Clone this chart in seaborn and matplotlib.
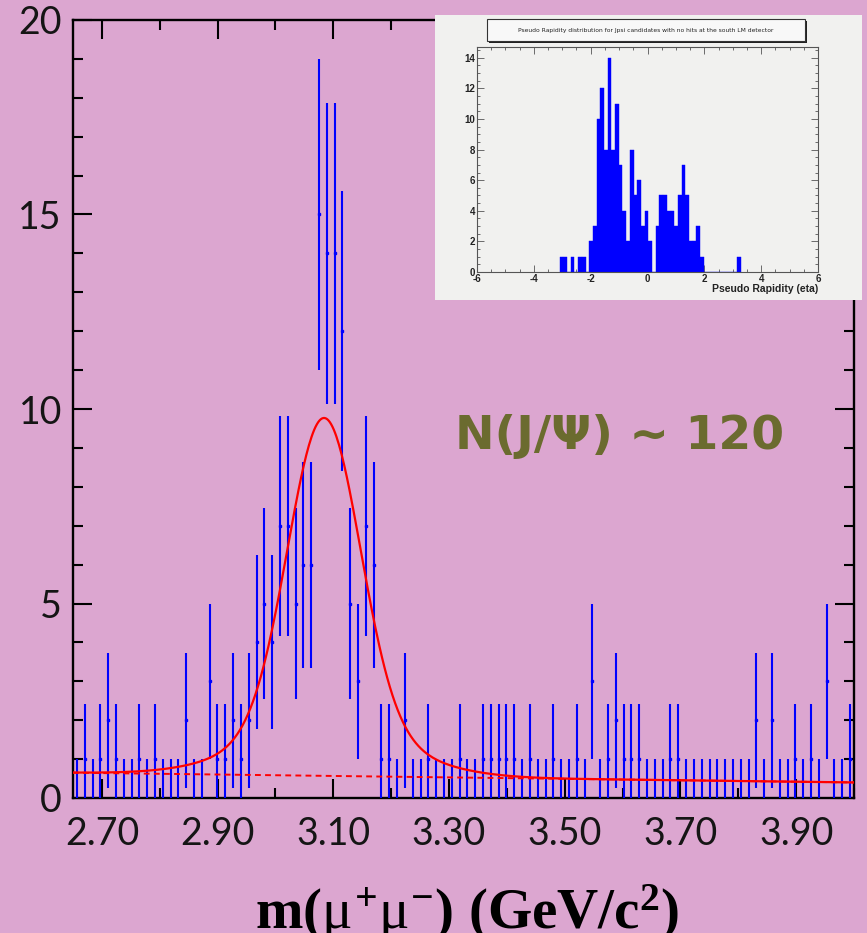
import numpy as np
import pandas as pd
import matplotlib
matplotlib.use("Agg")
import matplotlib.pyplot as plt
from matplotlib.ticker import MultipleLocator
from matplotlib.patches import Rectangle
import seaborn as sns

# dimuon invariant mass histogram, 100 equal bins between mass_lo and mass_hi
mass_lo = 2.65
mass_hi = 4.00
mass_counts = [
    0, 1, 0, 1, 2, 1, 0, 0, 1, 0,
    1, 0, 0, 0, 2, 0, 0, 3, 1, 1,
    2, 1, 2, 4, 5, 4, 7, 7, 5, 6,
    6, 15, 14, 14, 12, 5, 3, 7, 6, 1,
    1, 0, 2, 0, 0, 1, 0, 0, 0, 1,
    0, 0, 1, 1, 1, 1, 1, 0, 1, 0,
    0, 1, 0, 0, 1, 0, 3, 0, 1, 2,
    1, 1, 1, 0, 0, 0, 1, 1, 0, 0,
    0, 0, 0, 0, 0, 0, 0, 2, 0, 2,
    0, 0, 1, 0, 1, 0, 3, 0, 0, 1,
]

# fit parameters: peak (narrow + wide gaussian) on a linear background
peak_mean = 3.084
core_amp = 8.0
core_sigma = 0.062
wide_amp = 1.2
wide_sigma = 0.13
bkg_at_lo = 0.65
bkg_slope = -0.185

xtick_values = [2.7, 2.9, 3.1, 3.3, 3.5, 3.7, 3.9]
xtick_labels = ["2.70", "2.90", "3.10", "3.30", "3.50", "3.70", "3.90"]
ytick_values = [0, 5, 10, 15, 20]

# inset: pseudo rapidity of the J/psi candidates
eta_first_edge = -3.09
eta_bin_width = 0.13
eta_counts = [
    1, 1, 0, 1, 0, 1, 1, 0,
    2, 3, 10, 12, 8, 14, 8, 11, 7, 4,
    2, 8, 5, 6, 3, 4, 2, 0, 3, 5,
    5, 4, 4, 3, 5, 7, 5, 2, 2, 3, 1,
    0, 0, 0, 0, 0, 0, 0, 0, 0, 1,
]
inset_title = "Pseudo Rapidity distribution for Jpsi candidates with no hits at the south LM detector"

PINK = "#dca6d0"
GREY = "#f1f1ef"

sns.set_style("ticks")
plt.rcParams["font.family"] = ["Lato", "DejaVu Sans"]
plt.rcParams["mathtext.fontset"] = "custom"
plt.rcParams["mathtext.rm"] = "Liberation Serif:bold"
plt.rcParams["mathtext.bf"] = "Liberation Serif:bold"
plt.rcParams["mathtext.it"] = "Liberation Serif"

W, H = 867, 933
fig = plt.figure(figsize=(W / 100, H / 100), dpi=100, facecolor=PINK)

# ---- main mass plot ----
ax = fig.add_axes([73 / W, 1 - 798 / H, 781 / W, 778 / H], facecolor=PINK)

counts = np.array(mass_counts, dtype=float)
nbins = len(counts)
bw = (mass_hi - mass_lo) / nbins
centers = mass_lo + bw * (np.arange(nbins) + 0.5)
err = np.sqrt(counts + 1)
err_lo = np.minimum(err, counts)

ax.errorbar(centers, counts, yerr=[err_lo, err], fmt="none",
            ecolor="#0000ff", elinewidth=1.5, capsize=0, zorder=3)
filled = counts > 0
ax.plot(centers[filled], counts[filled], "s", ms=1.8, color="#0000ff", zorder=3)

m = np.linspace(mass_lo, mass_hi, 600)
bkg = bkg_at_lo + bkg_slope * (m - mass_lo)
fit = (bkg
       + core_amp * np.exp(-0.5 * ((m - peak_mean) / core_sigma) ** 2)
       + wide_amp * np.exp(-0.5 * ((m - peak_mean) / wide_sigma) ** 2))
ax.plot(m, bkg, color="#ff0000", lw=1.4, dashes=(3, 2.2), zorder=4)
sns.lineplot(x=m, y=fit, color="#ff0000", lw=1.6, ax=ax, zorder=5)

ax.set_xlim(mass_lo, mass_hi)
ax.set_ylim(0, 20)
ax.set_xticks(xtick_values)
ax.set_xticklabels(xtick_labels)
ax.xaxis.set_minor_locator(MultipleLocator(0.1))
ax.set_yticks(ytick_values)
ax.yaxis.set_minor_locator(MultipleLocator(1))
ax.tick_params(which="both", direction="in", top=True, right=True,
               width=1.5, color="black", labelsize=27, labelcolor="#151515")
ax.tick_params(which="major", length=14)
ax.tick_params(which="minor", length=7)
ax.tick_params(axis="x", pad=13)
ax.tick_params(axis="y", pad=8)
for s in ax.spines.values():
    s.set_linewidth(1.7)
    s.set_color("black")
    s.set_visible(True)

ax.text(3.594, 9.3, "N(J/\u03a8) ~ 120", ha="center", va="center",
        fontsize=34, fontweight="bold", color="#6b6b2f",
        family=["DejaVu Sans"])

fig.text(467 / W, 0.004, r"m($\mu^{+}\mu^{-}$) (GeV/c$^{2}$)",
         ha="center", va="baseline", fontsize=41, fontweight="bold",
         family=["Liberation Serif", "DejaVu Serif"], color="black")

# ---- inset (pasted ROOT histogram) ----
ax_bg = fig.add_axes([435 / W, 1 - 300 / H, 427 / W, 285 / H], facecolor=GREY)
ax_bg.set_xticks([])
ax_bg.set_yticks([])
for s in ax_bg.spines.values():
    s.set_visible(False)
ax_bg.add_patch(Rectangle((0.127, 0.902), 0.745, 0.077, transform=ax_bg.transAxes,
                          facecolor="#222222", edgecolor="none"))
ax_bg.add_patch(Rectangle((0.122, 0.909), 0.745, 0.077, transform=ax_bg.transAxes,
                          facecolor="#f8f8f8", edgecolor="#333333", lw=0.8))
ax_bg.text(0.494, 0.947, inset_title, transform=ax_bg.transAxes,
           ha="center", va="center", fontsize=4.3, color="#222222",
           family=["DejaVu Sans"])

axin = fig.add_axes([477 / W, 1 - 272 / H, 341 / W, 225 / H], facecolor=GREY)
eta = np.array(eta_counts, dtype=float)
eta_edges = eta_first_edge + eta_bin_width * np.arange(len(eta) + 1)
eta_df = pd.DataFrame({"eta": 0.5 * (eta_edges[:-1] + eta_edges[1:]), "n": eta})
sns.histplot(data=eta_df, x="eta", weights="n", binwidth=eta_bin_width,
             binrange=(eta_edges[0], eta_edges[-1]), color="#0000ff",
             alpha=1, edgecolor="#0000ff", linewidth=0.3, ax=axin)
axin.set_xlim(-6, 6)
axin.set_ylim(0, 14.7)
axin.set_xticks([-6, -4, -2, 0, 2, 4, 6])
axin.set_xticklabels(["-6", "-4", "-2", "0", "2", "4", "6"])
axin.set_yticks([0, 2, 4, 6, 8, 10, 12, 14])
axin.xaxis.set_minor_locator(MultipleLocator(0.5))
axin.yaxis.set_minor_locator(MultipleLocator(0.5))
axin.tick_params(which="both", direction="in", top=True, right=True,
                 width=0.6, color="#555555", labelsize=7, labelcolor="#222222",
                 pad=1.5)
axin.tick_params(which="major", length=5)
axin.tick_params(which="minor", length=2.5)
for lab in axin.get_xticklabels() + axin.get_yticklabels():
    lab.set_fontweight("bold")
    lab.set_family(["Liberation Sans", "DejaVu Sans"])
axin.set_ylabel("")
axin.set_xlabel("Pseudo Rapidity (eta)", loc="right", fontsize=7.5,
                fontweight="bold", color="#222222", labelpad=0,
                family=["Liberation Sans", "DejaVu Sans"])
for s in axin.spines.values():
    s.set_linewidth(0.8)
    s.set_color("#555555")

fig.savefig("out.png", dpi=100, facecolor=PINK)
